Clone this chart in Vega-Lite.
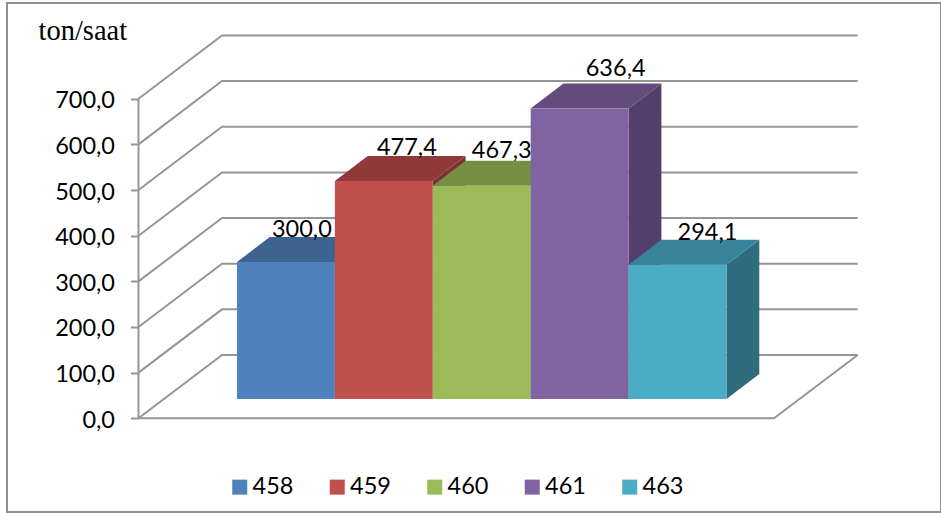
{
  "$schema": "https://vega.github.io/schema/vega-lite/v6.json",
  "width": 934,
  "height": 509,
  "autosize": "none",
  "padding": {"left": 7, "top": 3, "right": 0, "bottom": 1},
  "background": "white",
  "view": {"stroke": "#8f8f8f", "strokeWidth": 2, "fill": "white"},
  "datasets": {
    "bars": [
      {"bar": "458", "value": 300.0},
      {"bar": "459", "value": 477.4},
      {"bar": "460", "value": 467.3},
      {"bar": "461", "value": 636.4},
      {"bar": "463", "value": 294.1}
    ],
    "levels": [
      {"level": 0}, {"level": 100}, {"level": 200}, {"level": 300},
      {"level": 400}, {"level": 500}, {"level": 600}, {"level": 700}
    ]
  },
  "encoding": {
    "x": {
      "field": "px",
      "type": "quantitative",
      "axis": null,
      "scale": {"domain": [-2.349, 7.191], "nice": false, "zero": false}
    },
    "y": {
      "field": "py",
      "type": "quantitative",
      "scale": {"domain": [-205.2, 909.6], "nice": false, "zero": false},
      "axis": {
        "values": [0, 100, 200, 300, 400, 500, 600, 700],
        "offset": -131.5,
        "domain": false,
        "grid": false,
        "ticks": true,
        "tickSize": 8,
        "tickWidth": 2,
        "tickColor": "#969696",
        "labelExpr": "replace(format(datum.value, '.1f'), '.', ',')",
        "labelFont": "Lato",
        "labelFontSize": 23.5,
        "labelColor": "#000000",
        "labelPadding": 16,
        "labelOffset": 2,
        "title": "ton/saat",
        "titleFont": "Liberation Serif",
        "titleFontSize": 28.5,
        "titleFontWeight": "normal",
        "titleColor": "#000000",
        "titleAngle": 0,
        "titleAlign": "left",
        "titleBaseline": "alphabetic",
        "titleX": -100.5,
        "titleY": 36
      }
    }
  },
  "layer": [
    {
      "description": "Side wall and back wall gridlines, one bent line per axis level",
      "data": {"name": "levels"},
      "transform": [
        {"calculate": "[0, 1, 2]", "as": "pt"},
        {"flatten": ["pt"]},
        {"calculate": "[-1.006, -0.153, 6.34][datum.pt]", "as": "px"},
        {"calculate": "datum.level + (datum.pt > 0 ? 138.6 : 0)", "as": "py"}
      ],
      "mark": {"type": "line", "stroke": "#969696", "strokeWidth": 2},
      "encoding": {"detail": {"field": "level"}}
    },
    {
      "description": "Front edge of the floor",
      "data": {"values": [{"level": 0}]},
      "transform": [
        {"calculate": "[0, 1, 2]", "as": "pt"},
        {"flatten": ["pt"]},
        {"calculate": "[-1.006, 5.485, 6.34][datum.pt]", "as": "px"},
        {"calculate": "datum.pt == 2 ? 138.6 : 0", "as": "py"}
      ],
      "mark": {"type": "line", "stroke": "#969696", "strokeWidth": 2}
    },
    {
      "description": "Vertical axis line",
      "data": {"values": [{"level": 0}, {"level": 700}]},
      "transform": [
        {"calculate": "-1.006", "as": "px"},
        {"calculate": "datum.level", "as": "py"}
      ],
      "mark": {"type": "line", "stroke": "#969696", "strokeWidth": 2}
    },
    {
      "description": "Right side faces of the columns",
      "data": {"name": "bars"},
      "transform": [
        {"window": [{"op": "row_number", "as": "n"}]},
        {"calculate": "[0, 1]", "as": "t"},
        {"flatten": ["t"]},
        {"calculate": "datum.n + datum.t * 0.335", "as": "px"},
        {"calculate": "42.3 + datum.t * 54.7", "as": "py"},
        {"calculate": "42.3 + datum.value + datum.t * 54.7", "as": "py2"}
      ],
      "mark": {"type": "area", "orient": "vertical"},
      "encoding": {
        "y2": {"field": "py2"},
        "fill": {
          "field": "bar",
          "type": "nominal",
          "legend": null,
          "scale": {"domain": ["458", "459", "460", "461", "463"], "range": ["#34547b", "#7c3230", "#677c3b", "#533f6b", "#2f6c7e"]}
        }
      }
    },
    {
      "description": "Top faces of the columns",
      "data": {"name": "bars"},
      "transform": [
        {"window": [{"op": "row_number", "as": "n"}]},
        {"calculate": "[0, 1, 2, 3]", "as": "pt"},
        {"flatten": ["pt"]},
        {"calculate": "datum.n - 1 + [0, 0.335, 1, 1.335][datum.pt]", "as": "px"},
        {"calculate": "42.3 + datum.value + [0, 0, 0, 54.7][datum.pt]", "as": "py"},
        {"calculate": "42.3 + datum.value + [0, 54.7, 54.7, 54.7][datum.pt]", "as": "py2"}
      ],
      "mark": {"type": "area", "orient": "vertical"},
      "encoding": {
        "y2": {"field": "py2"},
        "fill": {
          "field": "bar",
          "type": "nominal",
          "legend": null,
          "scale": {"domain": ["458", "459", "460", "461", "463"], "range": ["#3d6391", "#8f3a38", "#768e44", "#614c7c", "#38849a"]}
        }
      }
    },
    {
      "description": "Front faces of the columns, standing on the raised floor line",
      "data": {"name": "bars"},
      "transform": [
        {"window": [{"op": "row_number", "as": "n"}]},
        {"calculate": "datum.n - 1", "as": "px"},
        {"calculate": "datum.n", "as": "px2"},
        {"calculate": "42.3", "as": "py"},
        {"calculate": "42.3 + datum.value", "as": "py2"}
      ],
      "mark": {"type": "rect"},
      "encoding": {
        "x2": {"field": "px2"},
        "y2": {"field": "py2"},
        "fill": {
          "field": "bar",
          "type": "nominal",
          "scale": {"domain": ["458", "459", "460", "461", "463"], "range": ["#4f81bd", "#c0504d", "#9bbb59", "#8064a2", "#4bacc6"]},
          "legend": {
            "title": null,
            "orient": "none",
            "direction": "horizontal",
            "columns": 5,
            "legendX": 221,
            "legendY": 472,
            "symbolType": "square",
            "symbolSize": 225,
            "symbolStrokeWidth": 0,
            "labelFont": "Lato",
            "labelFontSize": 23.5,
            "labelColor": "#000000",
            "labelOffset": 1,
            "columnPadding": 31.5
          }
        }
      }
    },
    {
      "description": "Value labels above each column",
      "data": {"name": "bars"},
      "transform": [
        {"window": [{"op": "row_number", "as": "n"}]},
        {"calculate": "datum.n - 0.5 + [0.163, 0.235, 0.204, 0.368, 0.306][datum.n - 1]", "as": "px"},
        {"calculate": "42.3 + datum.value + [55, 57, 61, 70, 55][datum.n - 1]", "as": "py"},
        {"calculate": "replace(format(datum.value, '.1f'), '.', ',')", "as": "label"}
      ],
      "mark": {"type": "text", "font": "Lato", "fontSize": 23.5, "color": "#000000", "align": "center", "baseline": "alphabetic"},
      "encoding": {"text": {"field": "label"}}
    }
  ],
  "resolve": {"scale": {"fill": "independent"}}
}
